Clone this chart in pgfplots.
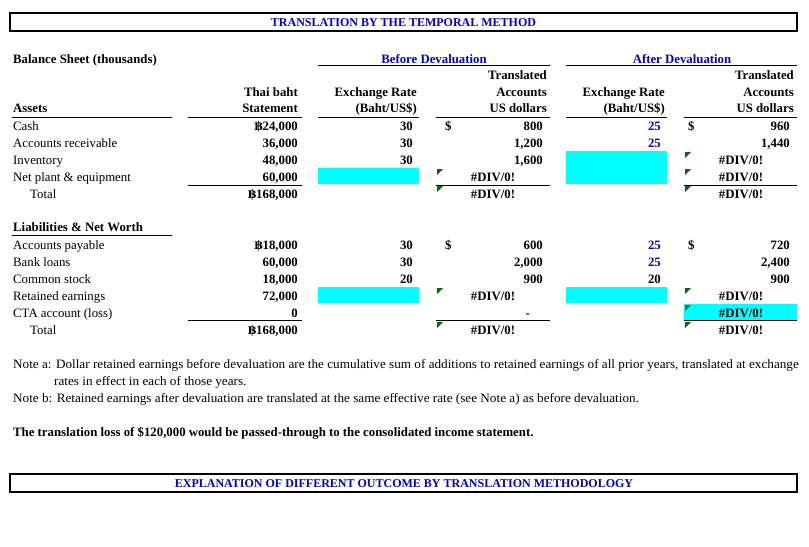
\documentclass[border=0pt]{standalone}
\usepackage{fontspec}
\setmainfont{Liberation Serif}
\newfontfamily\bahtfont{DejaVu Serif}
\usepackage{pgfplots}
\pgfplotsset{compat=1.18}

\definecolor{xlblue}{RGB}{0,0,204}
\definecolor{xlcyan}{RGB}{0,255,255}
\definecolor{xlgreen}{RGB}{0,110,0}

% shapes drawn in sheet pixel coordinates (y grows downwards)
\newcommand{\cyancell}[4]{\addplot[fill=xlcyan, draw=none] coordinates {(#1,#3) (#2,#3) (#2,#4) (#1,#4)} -- cycle;}
\newcommand{\sheetrule}[3]{\addplot[black, line width=0.9pt] coordinates {(#1,#3) (#2,#3)};}
\newcommand{\flag}[2]{%
  \pgfmathsetmacro{\fx}{#1+6}\pgfmathsetmacro{\fy}{#2+6}%
  \addplot[fill=xlgreen, draw=none] coordinates {(#1,#2) (\fx,#2) (#1,\fy)} -- cycle;}
\newcommand{\baht}{{\bahtfont\bfseries\fontsize{12bp}{14bp}\selectfont ฿}}

\begin{document}
\begin{tikzpicture}[
    tx/.style={font=\fontsize{12.8bp}{15bp}\selectfont\bfseries, inner sep=0pt},
    nt/.style={font=\fontsize{12.8bp}{15bp}\selectfont, inner sep=0pt},
    R/.style={tx, anchor=base east},
    L/.style={tx, anchor=base west},
    C/.style={tx, anchor=base},
]
\begin{axis}[
    width=809bp, height=547bp, scale only axis,
    xmin=0, xmax=809, ymin=0, ymax=547,
    y dir=reverse, hide axis, clip=false,
]
% page background
\addplot[fill=white, draw=none] coordinates {(0,0) (809,0) (809,547) (0,547)} -- cycle;

% title boxes
\addplot[black, line width=2pt] coordinates {(10,13) (797,13) (797,31) (10,31)} -- cycle;
\addplot[black, line width=2pt] coordinates {(10,474) (797,474) (797,492) (10,492)} -- cycle;
\node[tx, anchor=base, text=xlblue, font=\fontsize{12bp}{14bp}\selectfont\bfseries] at (403.5,26.5) {TRANSLATION BY THE TEMPORAL METHOD};
\node[tx, anchor=base, text=xlblue, font=\fontsize{12bp}{14bp}\selectfont\bfseries] at (404,487.5) {EXPLANATION OF DIFFERENT OUTCOME BY TRANSLATION METHODOLOGY};

% cyan input cells
\cyancell{318}{419}{168}{184}
\cyancell{566}{667}{151}{184}
\cyancell{318}{419}{287}{303}
\cyancell{566}{667}{287}{303}
\cyancell{684}{797}{304}{320}

% rules
\sheetrule{318}{550}{65.5}
\sheetrule{566}{797}{65.5}
\sheetrule{12}{172}{117}
\sheetrule{188}{302}{117}
\sheetrule{318}{419}{117}
\sheetrule{436}{550}{117}
\sheetrule{566}{667}{117}
\sheetrule{684}{797}{117}
\sheetrule{188}{302}{185}
\sheetrule{436}{550}{185}
\sheetrule{684}{797}{185}
\sheetrule{12}{172}{235}
\sheetrule{188}{302}{320}
\sheetrule{436}{550}{320}
\sheetrule{684}{797}{320}

% green error flags
\flag{437}{169}
\flag{437}{186}
\flag{437}{288}
\flag{437}{322}
\flag{685}{152}
\flag{685}{169}
\flag{685}{186}
\flag{685}{288}
\flag{685}{305}
\flag{685}{322}

% headers
\node[L] at (13,63.5) {Balance Sheet (thousands)};
\node[C, text=xlblue] at (434,63.5) {Before Devaluation};
\node[C, text=xlblue] at (682,63.5) {After Devaluation};
\node[R] at (547,79.5) {Translated};
\node[R] at (794,79.5) {Translated};
\node[R] at (298,96.5) {Thai baht};
\node[R] at (417,96.5) {Exchange Rate};
\node[R] at (547,96.5) {Accounts};
\node[R] at (665,96.5) {Exchange Rate};
\node[R] at (794,96.5) {Accounts};
\node[L] at (13,112.5) {Assets};
\node[R] at (298,112.5) {Statement};
\node[R] at (417,112.5) {(Baht/US\$)};
\node[R] at (547,112.5) {US dollars};
\node[R] at (665,112.5) {(Baht/US\$)};
\node[R] at (794,112.5) {US dollars};

% assets
\node[nt, anchor=base west] at (13,130.5) {Cash};
\node[nt, anchor=base west] at (13,147.5) {Accounts receivable};
\node[nt, anchor=base west] at (13,164.5) {Inventory};
\node[nt, anchor=base west] at (13,181.5) {Net plant \& equipment};
\node[nt, anchor=base west] at (30,198) {Total};
\node[R] at (298,130.5) {\baht24,000};
\node[R] at (298,147.5) {36,000};
\node[R] at (298,164.5) {48,000};
\node[R] at (298,181.5) {60,000};
\node[R] at (298,198) {\baht168,000};
\node[R] at (413,130.5) {30};
\node[R] at (413,147.5) {30};
\node[R] at (413,164.5) {30};
\node[L] at (445,130.5) {\$};
\node[R] at (543,130.5) {800};
\node[R] at (543,147.5) {1,200};
\node[R] at (543,164.5) {1,600};
\node[C] at (493,181.5) {\#DIV/0!};
\node[C] at (493,198) {\#DIV/0!};
\node[R, text=xlblue] at (661,130.5) {25};
\node[R, text=xlblue] at (661,147.5) {25};
\node[L] at (688,130.5) {\$};
\node[R] at (790,130.5) {960};
\node[R] at (790,147.5) {1,440};
\node[C] at (741,164.5) {\#DIV/0!};
\node[C] at (741,181.5) {\#DIV/0!};
\node[C] at (741,198) {\#DIV/0!};

% liabilities
\node[L] at (13,231.5) {Liabilities \& Net Worth};
\node[nt, anchor=base west] at (13,249.5) {Accounts payable};
\node[nt, anchor=base west] at (13,266.5) {Bank loans};
\node[nt, anchor=base west] at (13,283.5) {Common stock};
\node[nt, anchor=base west] at (13,300.5) {Retained earnings};
\node[nt, anchor=base west] at (13,317.5) {CTA account (loss)};
\node[nt, anchor=base west] at (30,334.5) {Total};
\node[R] at (298,249.5) {\baht18,000};
\node[R] at (298,266.5) {60,000};
\node[R] at (298,283.5) {18,000};
\node[R] at (298,300.5) {72,000};
\node[R] at (298,317.5) {0};
\node[R] at (298,334.5) {\baht168,000};
\node[R] at (413,249.5) {30};
\node[R] at (413,266.5) {30};
\node[R] at (413,283.5) {20};
\node[L] at (445,249.5) {\$};
\node[R] at (543,249.5) {600};
\node[R] at (543,266.5) {2,000};
\node[R] at (543,283.5) {900};
\node[C] at (493,300.5) {\#DIV/0!};
\node[R] at (530,317.5) {-};
\node[C] at (493,334.5) {\#DIV/0!};
\node[R, text=xlblue] at (661,249.5) {25};
\node[R, text=xlblue] at (661,266.5) {25};
\node[R] at (661,283.5) {20};
\node[L] at (688,249.5) {\$};
\node[R] at (790,249.5) {720};
\node[R] at (790,266.5) {2,400};
\node[R] at (790,283.5) {900};
\node[C] at (741,300.5) {\#DIV/0!};
\node[C] at (741,317.5) {\#DIV/0!};
\node[C] at (741,334.5) {\#DIV/0!};

% notes
\node[nt, anchor=base west] at (13,368.5) {\scalebox{1.03}[1]{Note a: Dollar retained earnings before devaluation are the cumulative sum of additions to retained earnings of all prior years, translated at exchange}};
\node[nt, anchor=base west] at (54,385.5) {\scalebox{1.03}[1]{rates in effect in each of those years.}};
\node[nt, anchor=base west] at (13,402.5) {\scalebox{1.03}[1]{Note b: Retained earnings after devaluation are translated at the same effective rate (see Note a) as before devaluation.}};
\node[L] at (13,436.5) {The translation loss of \$120,000 would be passed-through to the consolidated income statement.};
\end{axis}
\end{tikzpicture}
\end{document}
